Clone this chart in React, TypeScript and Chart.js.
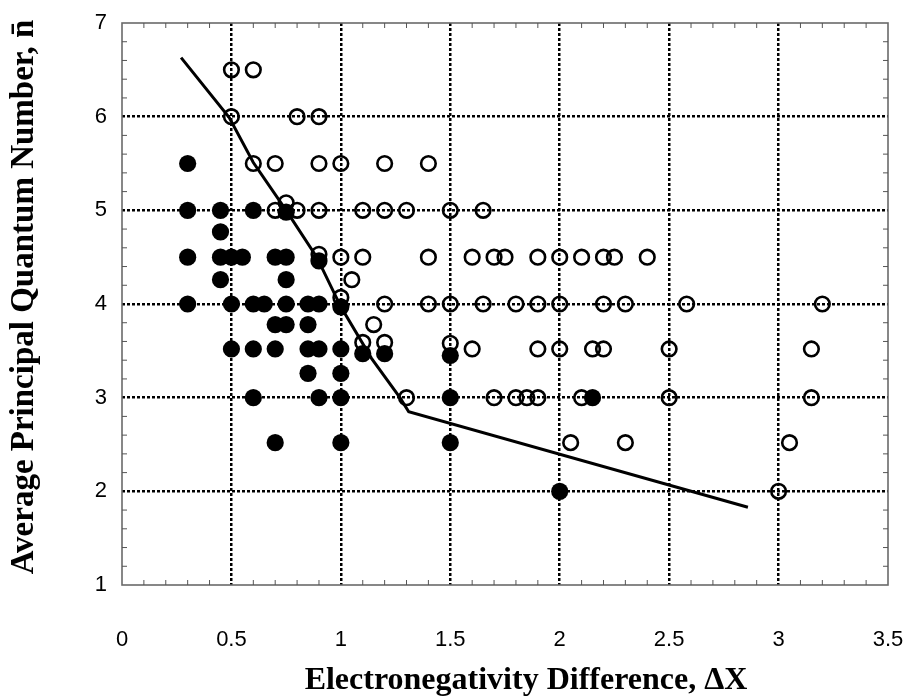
import { useEffect, useRef } from "react";
import { Chart, registerables } from "chart.js";

Chart.register(...registerables);

// Filled circles
const filledX = [
  0.3,
  0.3, 0.45, 0.6, 0.75,
  0.45,
  0.3, 0.45, 0.5, 0.55, 0.7, 0.75, 0.9,
  0.45, 0.75,
  0.3, 0.5, 0.6, 0.65, 0.75, 0.85, 0.9, 1.0,
  0.7, 0.75, 0.85,
  0.5, 0.6, 0.7, 0.85, 0.9, 1.0, 1.1, 1.2, 1.5,
  0.85, 1.0,
  0.6, 0.9, 1.0, 1.5, 2.15,
  0.7, 1.0, 1.5,
  2.0,
];
const filledY = [
  5.5,
  5, 5, 5, 4.98,
  4.77,
  4.5, 4.5, 4.5, 4.5, 4.5, 4.5, 4.46,
  4.26, 4.26,
  4, 4, 4, 4, 4, 4, 4, 3.97,
  3.78, 3.78, 3.78,
  3.52, 3.52, 3.52, 3.52, 3.52, 3.52, 3.47, 3.47, 3.45,
  3.26, 3.26,
  3, 3, 3, 3, 3,
  2.52, 2.52, 2.52,
  2,
];

// Open circles
const openX = [
  0.5, 0.6,
  0.5, 0.8, 0.9,
  0.6, 0.7, 0.9, 1.0, 1.2, 1.4,
  0.7, 0.75, 0.8, 0.9, 1.1, 1.2, 1.3, 1.5, 1.65,
  0.9, 1.0, 1.1, 1.4, 1.6, 1.7, 1.75, 1.9, 2.0, 2.1, 2.2, 2.25, 2.4,
  1.05,
  1.0, 1.2, 1.4, 1.5, 1.65, 1.8, 1.9, 2.0, 2.2, 2.3, 2.58, 3.2,
  1.15,
  1.1, 1.2, 1.5, 1.6, 1.9, 2.0, 2.15, 2.2, 2.5, 3.15,
  1.3, 1.7, 1.8, 1.85, 1.9, 2.1, 2.5, 3.15,
  2.05, 2.3, 3.05,
  3.0,
];
const openY = [
  6.5, 6.5,
  6, 6, 6,
  5.5, 5.5, 5.5, 5.5, 5.5, 5.5,
  5, 5.08, 5, 5, 5, 5, 5, 5, 5,
  4.53, 4.5, 4.5, 4.5, 4.5, 4.5, 4.5, 4.5, 4.5, 4.5, 4.5, 4.5, 4.5,
  4.26,
  4.07, 4, 4, 4, 4, 4, 4, 4, 4, 4, 4, 4,
  3.78,
  3.59, 3.59, 3.58, 3.52, 3.52, 3.52, 3.52, 3.52, 3.52, 3.52,
  3, 3, 3, 3, 3, 3, 3, 3,
  2.52, 2.52, 2.52,
  2,
];

// Boundary curve
const curveX = [0.27, 0.49, 0.6, 0.75, 0.89, 1.0, 1.14, 1.27, 1.31, 2.86];
const curveY = [6.63, 5.99, 5.51, 5.0, 4.5, 3.97, 3.42, 3.0, 2.85, 1.83];

const xTicks = [0, 0.5, 1, 1.5, 2, 2.5, 3, 3.5];
const yTicks = [1, 2, 3, 4, 5, 6, 7];

const xTitle = "Electronegativity Difference, \u0394X";
const yTitle = "Average Principal Quantum Number, n\u0304";

const zip = (xs: number[], ys: number[]) => xs.map((x, i) => ({ x, y: ys[i] }));

const framePlugin = {
  id: "frameAndTitles",
  afterDraw(chart: any) {
    const { ctx, chartArea, scales } = chart;
    const xs = scales.x;
    const ys = scales.y;
    const { left, right, top, bottom } = chartArea;
    ctx.save();
    ctx.strokeStyle = "#6a6a6a";
    ctx.lineWidth = 1.6;
    ctx.strokeRect(left, top, right - left, bottom - top);
    ctx.lineWidth = 1;
    ctx.strokeStyle = "#555";
    const tl = 5;
    for (let i = 1; i < 35; i++) {
      if (i % 5 === 0) continue;
      const px = xs.getPixelForValue(i / 10);
      ctx.beginPath();
      ctx.moveTo(px, top);
      ctx.lineTo(px, top + tl);
      ctx.moveTo(px, bottom);
      ctx.lineTo(px, bottom - tl);
      ctx.stroke();
    }
    for (let i = 1; i < 30; i++) {
      if (i % 5 === 0) continue;
      const py = ys.getPixelForValue(1 + i / 5);
      ctx.beginPath();
      ctx.moveTo(left, py);
      ctx.lineTo(left + tl, py);
      ctx.moveTo(right, py);
      ctx.lineTo(right - tl, py);
      ctx.stroke();
    }
    ctx.fillStyle = "#000";
    ctx.textAlign = "center";
    ctx.textBaseline = "middle";
    ctx.font = 'bold 32px "Liberation Serif", "Times New Roman", serif';
    ctx.fillText(xTitle, 526, 681);
    ctx.font = 'bold 33px "Liberation Serif", "Times New Roman", serif';
    ctx.translate(24, 297);
    ctx.rotate(-Math.PI / 2);
    ctx.fillText(yTitle, 0, 0);
    ctx.restore();
  },
};

export default function App() {
  const ref = useRef<HTMLCanvasElement | null>(null);

  useEffect(() => {
    if (!ref.current) return;
    const edgeColor = (vals: number[]) => (c: any) => {
      const v = c.tick ? c.tick.value : null;
      if (v === vals[0] || v === vals[vals.length - 1]) return "rgba(0,0,0,0)";
      return "#000";
    };
    const tickFont = { family: '"Liberation Sans", Arial, sans-serif', size: 22 };
    const chart = new Chart(ref.current, {
      type: "scatter",
      data: {
        datasets: [
          {
            label: "boundary",
            data: zip(curveX, curveY),
            showLine: true,
            borderColor: "#000",
            borderWidth: 3,
            pointRadius: 0,
            fill: false,
            tension: 0,
          },
          {
            label: "filled",
            data: zip(filledX, filledY),
            pointRadius: 8.6,
            pointBorderWidth: 0,
            pointBackgroundColor: "#000",
            pointBorderColor: "#000",
          },
          {
            label: "open",
            data: zip(openX, openY),
            pointRadius: 7.3,
            pointBorderWidth: 2.6,
            pointBackgroundColor: "rgba(0,0,0,0)",
            pointBorderColor: "#000",
          },
        ],
      },
      options: {
        animation: false,
        responsive: false,
        maintainAspectRatio: false,
        layout: { padding: { top: 23, right: 29, left: 0, bottom: 0 } },
        plugins: {
          legend: { display: false },
          tooltip: { enabled: false },
        },
        scales: {
          x: {
            type: "linear",
            min: xTicks[0],
            max: xTicks[xTicks.length - 1],
            afterFit: (s: any) => {
              s.height = 115;
              s.paddingLeft = 0;
              s.paddingRight = 0;
            },
            afterBuildTicks: (s: any) => {
              s.ticks = xTicks.map((v) => ({ value: v }));
            },
            ticks: {
              color: "#000",
              padding: 42,
              font: tickFont,
              callback: (v: any) => String(v),
              maxRotation: 0,
            },
            grid: {
              color: edgeColor(xTicks),
              lineWidth: 2.5,
              drawTicks: false,
            },
            border: { display: false, dash: [3, 2] },
            title: { display: false },
          },
          y: {
            type: "linear",
            min: yTicks[0],
            max: yTicks[yTicks.length - 1],
            afterFit: (s: any) => {
              s.width = 122;
              s.paddingTop = 0;
              s.paddingBottom = 0;
            },
            afterBuildTicks: (s: any) => {
              s.ticks = yTicks.map((v) => ({ value: v }));
            },
            ticks: {
              color: "#000",
              padding: 15,
              font: tickFont,
              callback: (v: any) => String(v),
            },
            grid: {
              color: edgeColor(yTicks),
              lineWidth: 2.5,
              drawTicks: false,
            },
            border: { display: false, dash: [3, 2] },
            title: { display: false },
          },
        },
      },
      plugins: [framePlugin],
    });
    return () => chart.destroy();
  }, []);

  return (
    <div style={{ position: "fixed", left: 0, top: 0, width: 917, height: 700, background: "#fff" }}>
      <canvas ref={ref} width={917} height={700} style={{ display: "block" }} />
    </div>
  );
}
